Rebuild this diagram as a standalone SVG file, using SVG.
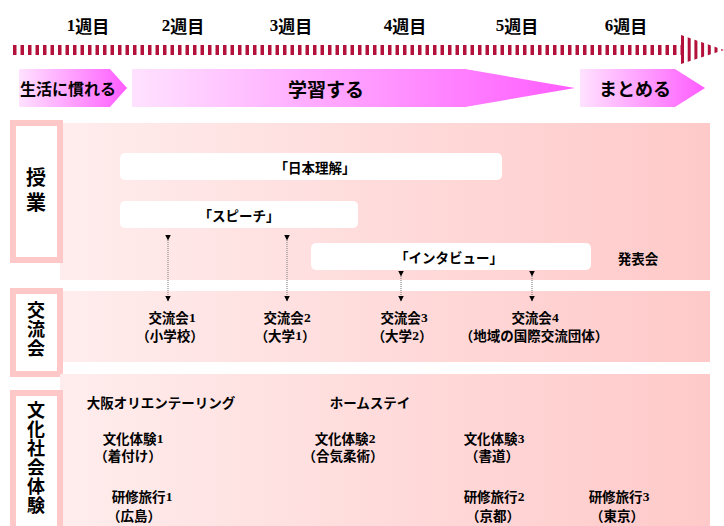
<svg xmlns="http://www.w3.org/2000/svg" width="724" height="526" viewBox="0 0 724 526">
<style>
.t{font-family:"Noto Sans CJK JP","Noto Sans",sans-serif;font-weight:bold;fill:#000;text-anchor:middle;dominant-baseline:central}
.n{font-family:"Liberation Serif",serif;font-weight:bold}
.s{font-size:13.5px}
.wk{font-size:17px}
.v{writing-mode:tb;glyph-orientation-vertical:0}
.frame{fill:#fff;stroke:#ffc8c8;stroke-width:6}
.band{fill:url(#bandG)}
.box{fill:#fff}
.conn{stroke:#8a8a8a;stroke-width:1.2;stroke-dasharray:1 1;fill:none}
</style>
<defs>
<linearGradient id="bandG" x1="0" y1="0" x2="1" y2="0">
<stop offset="0" stop-color="#ffeded"/>
<stop offset="1" stop-color="#ffc9c9"/>
</linearGradient>
<linearGradient id="phG" x1="0" y1="0" x2="1" y2="0">
<stop offset="0" stop-color="#ffe2ff"/>
<stop offset="1" stop-color="#ff5cff"/>
</linearGradient>
<clipPath id="tipClip"><polygon points="681,35 724,50 681,64"/></clipPath>
<marker id="ah" viewBox="0 0 6 6" refX="5.5" refY="3" markerWidth="6" markerHeight="6" orient="auto" markerUnits="userSpaceOnUse">
<path d="M0,0 L6,3 L0,6 z" fill="#000"/>
</marker>
</defs>

<g id="weeks">
<text class="t wk" x="88" y="25"><tspan class="n">1</tspan>週目</text>
<text class="t wk" x="183" y="25"><tspan class="n">2</tspan>週目</text>
<text class="t wk" x="291" y="25"><tspan class="n">3</tspan>週目</text>
<text class="t wk" x="405" y="25"><tspan class="n">4</tspan>週目</text>
<text class="t wk" x="517" y="25"><tspan class="n">5</tspan>週目</text>
<text class="t wk" x="626" y="25"><tspan class="n">6</tspan>週目</text>
</g>

<g id="timeline">
<line x1="13" y1="50" x2="681" y2="50" stroke="#b3103c" stroke-width="10" stroke-dasharray="3.5 4"/>
<line x1="681" y1="50" x2="724" y2="50" stroke="#b3103c" stroke-width="30" stroke-dasharray="3 3.7" clip-path="url(#tipClip)"/>
</g>

<g id="phase1">
<polygon points="19,69 110,69 127,88 110,107 19,107" fill="url(#phG)"/>
<text class="t" x="68" y="88" font-size="16">生活に慣れる</text>
</g>
<g id="phase2">
<polygon points="132,69 465,69 575,88 465,107 132,107" fill="url(#phG)"/>
<text class="t" x="326" y="88" font-size="19">学習する</text>
</g>
<g id="phase3">
<polygon points="580,69 675,69 705,88 675,107 580,107" fill="url(#phG)"/>
<text class="t" x="635" y="88" font-size="18">まとめる</text>
</g>

<g id="row-jugyo">
<rect class="band" x="60" y="123" width="650" height="157"/>
<rect class="frame" x="13" y="123" width="47" height="137"/>
<text class="t v" x="36" y="192" font-size="20" letter-spacing="5">授業</text>
</g>
<g id="box-nihon">
<rect class="box" x="120" y="153" width="382" height="27" rx="5"/>
<text class="t s" x="315" y="167">「日本理解」</text>
</g>
<g id="box-speech">
<rect class="box" x="120" y="201" width="238" height="27" rx="5"/>
<text class="t s" x="239" y="215">「スピーチ」</text>
</g>
<g id="box-interview">
<rect class="box" x="311" y="243" width="280" height="27" rx="5"/>
<text class="t s" x="449" y="257">「インタビュー」</text>
</g>
<g id="happyoukai">
<text class="t s" x="638" y="258">発表会</text>
</g>

<g id="row-kouryu">
<rect class="band" x="60" y="291" width="650" height="71"/>
<rect class="frame" x="13" y="291" width="47" height="83"/>
<text class="t v" x="36" y="330" font-size="18" letter-spacing="1">交流会</text>
</g>
<g id="kouryu1">
<text class="t s" x="172" y="317">交流会<tspan class="n">1</tspan><tspan x="170" dy="18">（小学校）</tspan></text>
</g>
<g id="kouryu2">
<text class="t s" x="287" y="317">交流会<tspan class="n">2</tspan><tspan x="285" dy="18">（大学<tspan class="n">1</tspan>）</tspan></text>
</g>
<g id="kouryu3">
<text class="t s" x="404" y="317">交流会<tspan class="n">3</tspan><tspan x="402" dy="18">（大学<tspan class="n">2</tspan>）</tspan></text>
</g>
<g id="kouryu4">
<text class="t s" x="535" y="317">交流会<tspan class="n">4</tspan><tspan x="534" dy="18">（地域の国際交流団体）</tspan></text>
</g>

<g id="row-bunka">
<rect class="band" x="60" y="374" width="650" height="152"/>
<rect class="frame" x="13" y="393" width="47" height="140"/>
<text class="t v" x="36" y="458" font-size="18" letter-spacing="1">文化社会体験</text>
</g>
<g id="orienteering"><text class="t s" x="161" y="402">大阪オリエンテーリング</text></g>
<g id="homestay"><text class="t s" x="370" y="402">ホームステイ</text></g>
<g id="bunka1">
<text class="t s" x="133" y="438">文化体験<tspan class="n">1</tspan><tspan x="128" dy="17">（着付け）</tspan></text>
</g>
<g id="bunka2">
<text class="t s" x="345" y="438">文化体験<tspan class="n">2</tspan><tspan x="343" dy="17">（合気柔術）</tspan></text>
</g>
<g id="bunka3">
<text class="t s" x="494" y="438">文化体験<tspan class="n">3</tspan><tspan x="492" dy="17">（書道）</tspan></text>
</g>
<g id="ryokou1">
<text class="t s" x="142" y="496">研修旅行<tspan class="n">1</tspan><tspan x="134" dy="19">（広島）</tspan></text>
</g>
<g id="ryokou2">
<text class="t s" x="494" y="496">研修旅行<tspan class="n">2</tspan><tspan x="493" dy="19">（京都）</tspan></text>
</g>
<g id="ryokou3">
<text class="t s" x="619" y="496">研修旅行<tspan class="n">3</tspan><tspan x="617" dy="19">（東京）</tspan></text>
</g>

<g id="connectors">
<line class="conn" x1="168" y1="240" x2="168" y2="301" marker-start="url(#ah)" marker-end="url(#ah)"/>
<line class="conn" x1="287" y1="240" x2="287" y2="301" marker-start="url(#ah)" marker-end="url(#ah)"/>
<line class="conn" x1="401" y1="276" x2="401" y2="301" marker-start="url(#ah)" marker-end="url(#ah)"/>
<line class="conn" x1="532" y1="276" x2="532" y2="301" marker-start="url(#ah)" marker-end="url(#ah)"/>
</g>
</svg>
